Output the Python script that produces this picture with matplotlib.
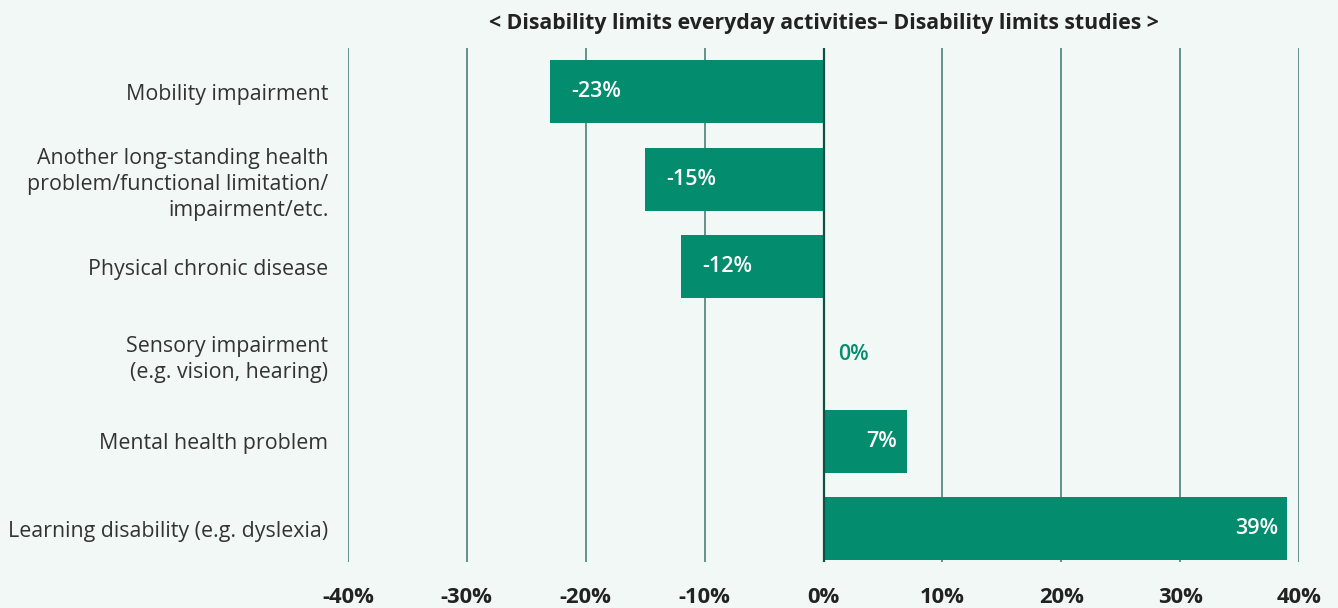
import matplotlib

matplotlib.use("Agg")
import matplotlib.pyplot as plt
from matplotlib.ticker import FuncFormatter

# %% Data
categories = [
    "Mobility impairment",
    "Another long-standing health\nproblem/functional limitation/\nimpairment/etc.",
    "Physical chronic disease",
    "Sensory impairment\n(e.g. vision, hearing)",
    "Mental health problem",
    "Learning disability (e.g. dyslexia)",
]
values = [-23, -15, -12, 0, 7, 39]
xticks = [-40, -30, -20, -10, 0, 10, 20, 30, 40]

BG = "#f2f8f5"
GREEN = "#038c6e"
GRID = "#3e7670"
TEXT = "#333333"

plt.rcParams["font.family"] = ["Open Sans", "DejaVu Sans"]

fig = plt.figure(figsize=(13.38, 6.08), dpi=100, facecolor=BG)
ax = fig.add_axes([0.260, 0.0757, 0.711, 0.845], facecolor=BG)

ypos = list(range(len(categories)))
ax.barh(ypos, values, height=0.72, color=GREEN, zorder=2)

# grid lines
for x in xticks:
    ax.axvline(x, color="#0d4f47" if x == 0 else GRID, lw=1.6 if x == 0 else 1.1, zorder=1 if x else 3)

# value labels
for y, v in zip(ypos, values):
    if v < 0:
        ax.text(v + 1.8, y, f"{v}%", ha="left", va="center", color="white", fontsize=15.5,
                fontweight="semibold", zorder=4)
    elif v == 0:
        ax.text(1.2, y, f"{v}%", ha="left", va="center", color=GREEN, fontsize=15.5,
                fontweight="semibold", zorder=4)
    else:
        ax.text(v - 0.8, y, f"{v}%", ha="right", va="center", color="white", fontsize=15.5,
                fontweight="semibold", zorder=4)

ax.set_xlim(-40, 40)
ax.set_ylim(5.38, -0.5)
ax.set_xticks(xticks)
ax.xaxis.set_major_formatter(FuncFormatter(lambda v, _: f"{v:.0f}%"))
ax.set_yticks(ypos)
ax.set_yticklabels(categories, fontsize=15.4, color=TEXT, linespacing=1.32)
for lab in ax.get_xticklabels():
    lab.set_fontweight("bold")
    lab.set_fontsize(15.8)
    lab.set_color("#222222")
ax.tick_params(axis="both", length=0)
ax.tick_params(axis="y", pad=14)
ax.tick_params(axis="x", pad=18)
for s in ax.spines.values():
    s.set_visible(False)

ax.set_title("< Disability limits everyday activities– Disability limits studies >",
             fontsize=15.3, fontweight="bold", color="#222222", pad=14)

fig.savefig("out.png", dpi=100, facecolor=BG)
